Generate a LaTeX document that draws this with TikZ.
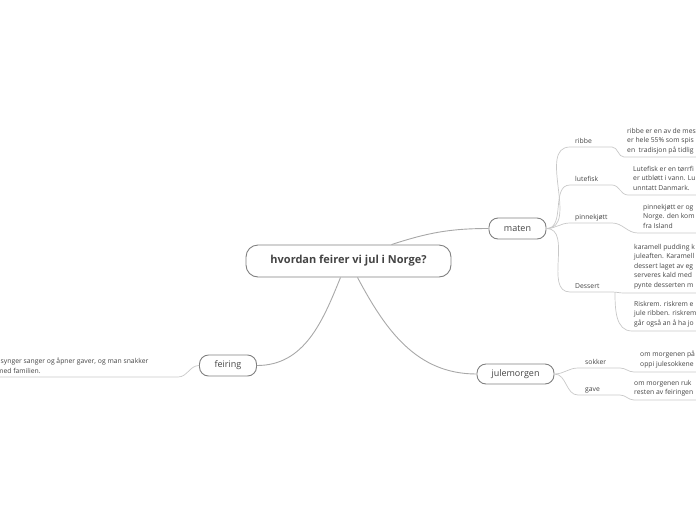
\documentclass[tikz,border=0pt]{standalone}
\usepackage{fontspec}
\setmainfont{Open Sans}
\definecolor{ink}{HTML}{444444}
\definecolor{boxline}{HTML}{808080}
\definecolor{edge}{HTML}{A8A8A8}
\definecolor{subedge}{HTML}{C8C8C8}

\begin{document}
\begin{tikzpicture}[x=1pt, y=-1pt,
	topic/.style={draw=boxline, line width=0.9pt, rounded corners=9pt, inner sep=0pt, text=ink, font=\fontsize{9}{11}\selectfont},
	branch/.style={draw=edge, line width=0.9pt},
	twig/.style={draw=subedge, line width=0.7pt},
	lbl/.style={anchor=base west, inner sep=0pt, text=ink, font=\fontsize{6.8}{9}\selectfont},
	note/.style={anchor=north west, align=left, inner sep=0pt, text=ink, font=\fontsize{6.8}{9.5}\selectfont}]
	\useasboundingbox (0, 0) rectangle (696, 520);
	\clip (0, 0) rectangle (696, 520);

	% main topics
	\node [topic, minimum width=205pt, minimum height=32pt, rounded corners=12pt, font=\bfseries\fontsize{11}{13}\selectfont] (root) at (348.5, 261) {hvordan feirer vi jul i Norge?};
	\node [topic, minimum width=57pt, minimum height=21pt] (maten) at (517.5, 228.5) {maten};
	\node [topic, minimum width=77pt, minimum height=20pt] (julemorgen) at (515.5, 374) {julemorgen};
	\node [topic, minimum width=57pt, minimum height=21pt] (feiring) at (228, 365.5) {feiring};

	\draw [branch] ([xshift=43pt]root.north) to [out=18, in=180] (maten.west);
	\draw [branch] ([xshift=9pt]root.south) to [out=-62, in=180] (julemorgen.west);
	\draw [branch] ([xshift=-8pt]root.south) to [out=-112, in=0] (feiring.east);

	% maten: label, line, text line
	\foreach \name/\y/\yy/\x in {ribbe/147/157/624, lutefisk/185/195/628, pinnekjøtt/223/233/638, Dessert/292/293/624} {
		\coordinate (m\y) at (570, \y);
		\draw [twig] (maten.east) to [out=0, in=180] (m\y) -- (612, \y) to [out=0, in=180] (\x, \yy) -- (700, \yy);
		\node [lbl] at (575, \y - 4) {\name};
	}
	\draw [twig] (615, 292) to [out=-90, in=180] (632, 331) -- (700, 331);

	\node [note] (ribbetext) at (627, 128) {ribbe er en av de mes\\er hele 55\% som spis\\en\ \ tradisjon på tidlig};
	\node [note] (lutefisktext) at (633, 166) {Lutefisk er en tørrfi\\er utbløtt i vann. Lu\\unntatt Danmark.};
	\node [note] (pinnetext) at (643, 204) {pinnekjøtt er og\\Norge. den kom\\fra Island};
	\node [note] (desserttext) at (634, 244) {karamell pudding k\\juleaften. Karamell\\dessert laget av eg\\serveres kald med\\pynte desserten m};
	\node [note] (riskremtext) at (634, 301) {Riskrem. riskrem e\\jule ribben. riskrem\\går også an å ha jo};

	% julemorgen
	\foreach \name/\y/\yy in {sokker/368/372, gave/395/400} {
		\coordinate (j\y) at (578, \y);
		\draw [twig] (julemorgen.east) to [out=0, in=180] (j\y) -- (620, \y) to [out=0, in=180] (634, \yy) -- (700, \yy);
		\node [lbl] at (585, \y - 4) {\name};
	}
	\node [note] (sokkertext) at (640, 351) {om morgenen på\\oppi julesokkene};
	\node [note] (gavetext) at (634, 380) {om morgenen ruk\\resten av feiringen};

	% feiring
	\coordinate (f1) at (178, 377);
	\draw [twig] (feiring.west) to [out=180, in=0] (f1) -- (-5, 377);
	\node [note] (feiringtext) at (-3, 358) {l synger sanger og åpner gaver, og man snakker\\med familien.};
\end{tikzpicture}
\end{document}
